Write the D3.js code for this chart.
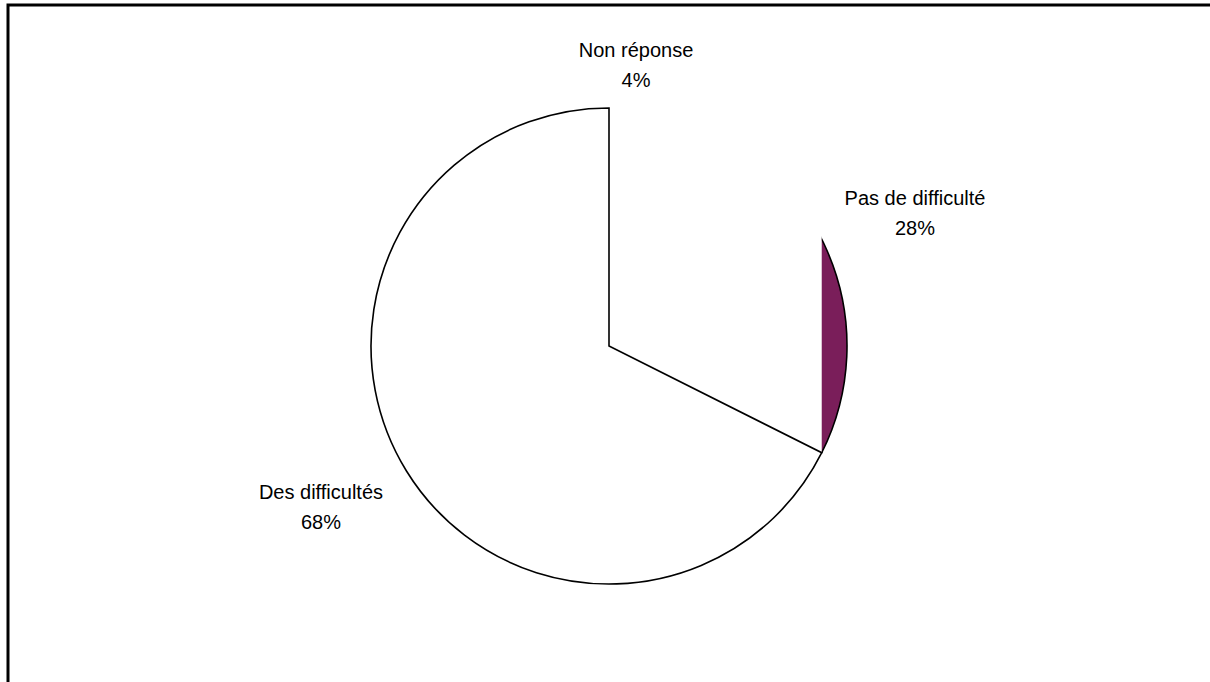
<!DOCTYPE html>
<html>
<head>
<meta charset="utf-8">
<script src="https://cdn.jsdelivr.net/npm/d3@7"></script>
<style>
  html, body { margin: 0; padding: 0; background: #fff; }
  svg { display: block; }
  text { font-family: "Liberation Sans", Arial, sans-serif; font-size: 20px; fill: #000; }
</style>
</head>
<body>
<svg id="chart" width="1210" height="682"></svg>
<script>
// ---- data ----
const categories = ["Non réponse", "Pas de difficulté", "Des difficultés"];
const values = [4.2, 28.2, 67.6];
const colors = ["#ffffff", "#7a1e5a", "#ffffff"];

// ---- layout ----
const cx = 609, cy = 346, R = 238;
const labelAnchors = [[636, 57], [915, 205], [321, 499]];
const lineGap = 30;

const svg = d3.select("#chart");

// frame (extends past the right and bottom edges)
svg.append("rect")
  .attr("x", 8).attr("y", 5)
  .attr("width", 1400).attr("height", 1000)
  .attr("fill", "none").attr("stroke", "#000").attr("stroke-width", 3);

const total = d3.sum(values);
const pie = d3.pie().sort(null).value(d => d)(values);
const arc = d3.arc().innerRadius(0).outerRadius(R);

const g = svg.append("g").attr("transform", `translate(${cx},${cy})`);

// the "Pas de difficulté" slice is only visible beyond the chord of the large slice
const desStart = pie[2].startAngle;
const clipX = R * Math.sin(desStart);
svg.append("clipPath").attr("id", "clipPas")
  .append("rect")
  .attr("x", clipX).attr("y", -R - 10)
  .attr("width", R + 20).attr("height", 2 * R + 20);

// Pas de difficulté
g.append("path")
  .attr("d", arc(pie[1]))
  .attr("fill", colors[1])
  .attr("stroke", "#000")
  .attr("stroke-width", 1.6)
  .attr("clip-path", "url(#clipPas)");

// Des difficultés
g.append("path")
  .attr("d", arc(pie[2]))
  .attr("fill", colors[2])
  .attr("stroke", "#000")
  .attr("stroke-width", 1.6)
  .attr("stroke-linejoin", "miter");

// labels
categories.forEach((c, i) => {
  const [lx, ly] = labelAnchors[i];
  const t = svg.append("text").attr("text-anchor", "middle");
  t.append("tspan").attr("x", lx).attr("y", ly).text(c);
  t.append("tspan").attr("x", lx).attr("y", ly + lineGap)
    .text(Math.round(values[i] / total * 100) + "%");
});
</script>
</body>
</html>
